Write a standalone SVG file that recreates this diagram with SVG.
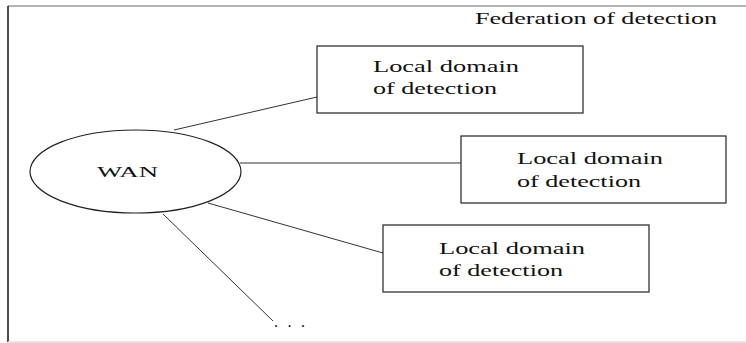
<svg xmlns="http://www.w3.org/2000/svg" width="746" height="343" viewBox="0 0 746 343">
<style>
.frame-top{stroke:#9a9a9a;stroke-width:1.5;fill:none}
.frame-left{stroke:#111;stroke-width:1.5;fill:none}
.frame-bottom{stroke:#dcdcdc;stroke-width:1.5;fill:none}
.node{fill:#fff;stroke:#222;stroke-width:1.2}
.edge{stroke:#333;stroke-width:1;fill:none}
</style>
<rect width="746" height="343" fill="#fff"/>
<g id="frame">
<line class="frame-top" x1="8" y1="6" x2="746" y2="6"/>
<line class="frame-left" x1="8" y1="6" x2="8" y2="342"/>
<line class="frame-bottom" x1="8" y1="342" x2="746" y2="342"/>
<text font-family="Liberation Serif, serif" font-size="16" fill="#111" x="475" y="24" textLength="242" lengthAdjust="spacingAndGlyphs">Federation of detection</text>
</g>
<g id="connectors">
<line class="edge" x1="174" y1="130" x2="317" y2="97"/>
<line class="edge" x1="240" y1="163" x2="461" y2="163"/>
<line class="edge" x1="208" y1="203" x2="383" y2="253"/>
<line class="edge" x1="163" y1="214" x2="273" y2="321"/>
</g>
<g id="wan">
<ellipse class="node" cx="135.5" cy="171.5" rx="105.5" ry="41.5"/>
<text font-family="Liberation Serif, serif" font-size="14" fill="#111" x="97" y="177" textLength="61" lengthAdjust="spacingAndGlyphs">WAN</text>
</g>
<g id="local1">
<rect class="node" x="317" y="46" width="266" height="67"/>
<text font-family="Liberation Serif, serif" font-size="16" fill="#111" x="373" y="72" textLength="146" lengthAdjust="spacingAndGlyphs">Local domain</text>
<text font-family="Liberation Serif, serif" font-size="16" fill="#111" x="373" y="94" textLength="124" lengthAdjust="spacingAndGlyphs">of detection</text>
</g>
<g id="local2">
<rect class="node" x="461" y="136" width="265" height="67"/>
<text font-family="Liberation Serif, serif" font-size="16" fill="#111" x="517" y="164" textLength="146" lengthAdjust="spacingAndGlyphs">Local domain</text>
<text font-family="Liberation Serif, serif" font-size="16" fill="#111" x="517" y="187" textLength="124" lengthAdjust="spacingAndGlyphs">of detection</text>
</g>
<g id="local3">
<rect class="node" x="383" y="225" width="266" height="67"/>
<text font-family="Liberation Serif, serif" font-size="16" fill="#111" x="439" y="254" textLength="146" lengthAdjust="spacingAndGlyphs">Local domain</text>
<text font-family="Liberation Serif, serif" font-size="16" fill="#111" x="439" y="276" textLength="124" lengthAdjust="spacingAndGlyphs">of detection</text>
</g>
<g id="more">
<text font-family="Liberation Serif, serif" font-size="16" fill="#111" x="274" y="327" textLength="31" lengthAdjust="spacing">. . .</text>
</g>
</svg>
